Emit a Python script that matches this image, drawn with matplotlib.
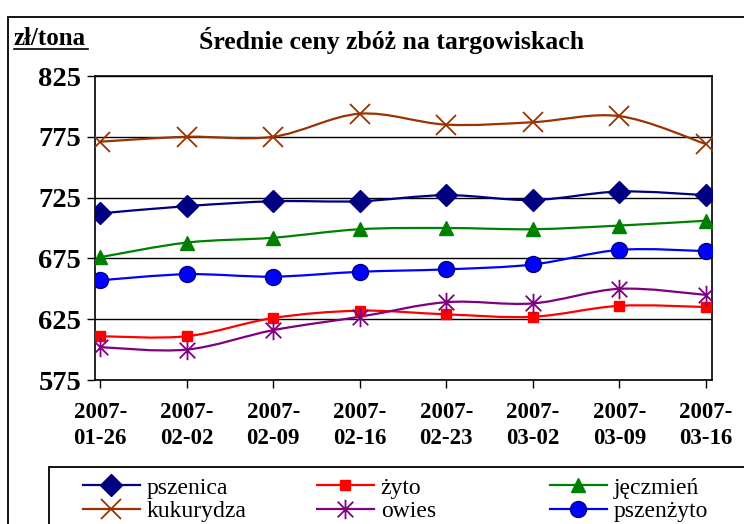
import matplotlib.pyplot as plt
from matplotlib.path import Path
from matplotlib.patches import PathPatch, Rectangle
from matplotlib.lines import Line2D

plt.rcParams['font.family'] = ['Liberation Serif', 'DejaVu Serif']

dates = ["2007-\n01-26", "2007-\n02-02", "2007-\n02-09", "2007-\n02-16",
         "2007-\n02-23", "2007-\n03-02", "2007-\n03-09", "2007-\n03-16"]

pszenica = [712, 718, 722, 722, 727, 723, 730, 727]
zyto = [611, 611, 626, 632, 629, 627, 636, 635]
jeczmien = [676, 688, 692, 699, 700, 699, 702, 706]
kukurydza = [771, 775, 775, 794, 785, 787, 792, 769]
owies = [602, 600, 616, 627, 639, 638, 650, 645]
pszenzyto = [657, 662, 660, 664, 666, 670, 682, 681]

yticks = [575, 625, 675, 725, 775, 825]

# asterisk marker like excel's star: x plus vertical bar
star = Path([(-1, -1), (1, 1), (-1, 1), (1, -1), (0, -1.25), (0, 1.25)],
            [Path.MOVETO, Path.LINETO, Path.MOVETO, Path.LINETO, Path.MOVETO, Path.LINETO])

series = [
    ("pszenica", pszenica, dict(color="#000080", marker="D", ms=11, mfc="#000080", mec="#000080")),
    ("żyto", zyto, dict(color="#FF0000", marker="s", ms=7.5, mfc="#FF0000", mec="#FF0000")),
    ("jęczmień", jeczmien, dict(color="#008000", marker="^", ms=10, mfc="#008000", mec="#008000")),
    ("kukurydza", kukurydza, dict(color="#993300", marker="x", ms=14, mew=1.3)),
    ("owies", owies, dict(color="#800080", marker=star, ms=14, mew=1.3)),
    ("pszenżyto", pszenzyto, dict(color="#0000FF", marker="o", ms=11.5, mfc="#0000FF", mec="#000080")),
]


def smooth_path(xs, ys):
    # bezier segments like excel's "smoothed line"
    pts = list(zip(xs, ys))
    verts = [pts[0]]
    codes = [Path.MOVETO]
    n = len(pts)
    for i in range(n - 1):
        p0 = pts[max(i - 1, 0)]
        p1 = pts[i]
        p2 = pts[i + 1]
        p3 = pts[min(i + 2, n - 1)]
        c1 = (p1[0] + (p2[0] - p0[0]) / 6, p1[1] + (p2[1] - p0[1]) / 6)
        c2 = (p2[0] - (p3[0] - p1[0]) / 6, p2[1] - (p3[1] - p1[1]) / 6)
        verts += [c1, c2, p2]
        codes += [Path.CURVE4] * 3
    return Path(verts, codes)


fig = plt.figure(figsize=(7.44, 5.24), dpi=100)
W, H = 744, 524
ax = fig.add_axes([95 / W, 1 - 380 / H, (712 - 95) / W, (380 - 76) / H])

x = list(range(len(dates)))
handles = []
for name, vals, st in series:
    ax.add_patch(PathPatch(smooth_path(x, vals), fill=False, ec=st["color"], lw=1.6, zorder=2))
    ax.plot(x, vals, ls="none", zorder=3, **st)
    handles.append(Line2D([], [], lw=1.6, label=name, **st))

ax.set_xlim(-0.06, 7.07)
ax.set_ylim(575, 825)
ax.set_yticks(yticks)
ax.set_xticks(x)
ax.set_xticklabels(dates, fontsize=16.5, fontweight="bold", linespacing=1.3)
ax.tick_params(axis="y", labelsize=20.5, length=6, width=1, pad=4)
ax.tick_params(axis="x", length=6, width=1, pad=10)
for lab in ax.get_yticklabels():
    lab.set_fontweight("bold")
ax.grid(axis="y", color="black", lw=1)
ax.set_axisbelow(True)
for sp in ax.spines.values():
    sp.set_linewidth(1.2)

fig.text(392 / W, 1 - 49 / H, "Średnie ceny zbóż na targowiskach",
         fontsize=18.5, fontweight="bold", ha="center", va="baseline")
fig.text(14 / W, 1 - 45 / H, "zł/tona", fontsize=18, fontweight="bold", va="baseline")
fig.add_artist(Line2D([14 / W, 88 / W], [1 - 49 / H, 1 - 49 / H], color="black", lw=1.2))

# outer chart frame and legend box
fig.add_artist(Rectangle((8 / W, -0.1), 1.1, 1 - 17 / H + 0.1, fill=False, ec="black", lw=1.3))
fig.add_artist(Rectangle((49 / W, -0.1), 1.1, 1 - 467 / H + 0.1, fill=False, ec="black", lw=1.3))

col_x = [83, 317, 550]
for c in range(3):
    leg = fig.legend(handles=[handles[c], handles[c + 3]], loc="upper left",
                     bbox_to_anchor=(col_x[c] / W, 1 - 477 / H), frameon=False,
                     fontsize=17, handlelength=2.4, handletextpad=0.3,
                     labelspacing=0.08, borderpad=0, borderaxespad=0)

fig.savefig("out.png", dpi=100)
